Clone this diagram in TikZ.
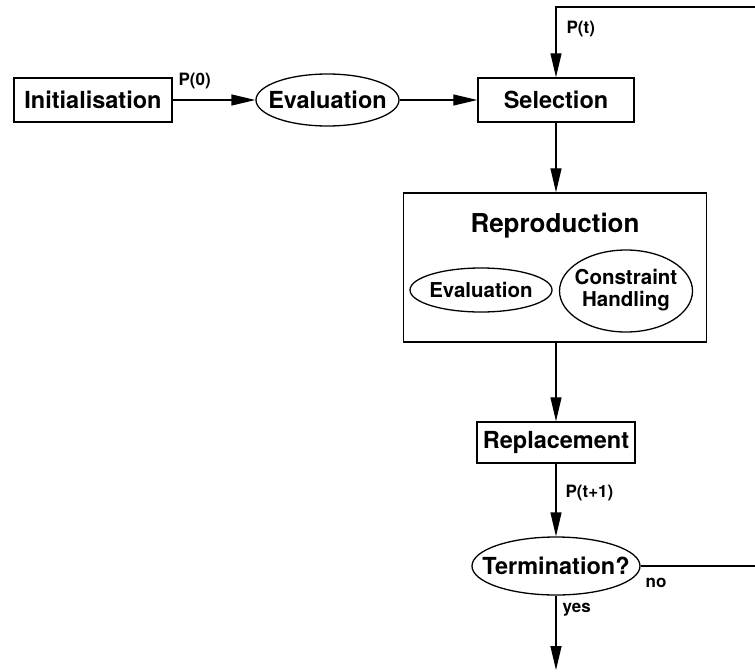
\documentclass[tikz,border=0pt]{standalone}
\usepackage{fontspec}
\setmainfont{TeX Gyre Heros}
\usetikzlibrary{shapes.geometric,arrows.meta}
\begin{document}
\begin{tikzpicture}[x=1pt,y=-1pt,
  line width=1.3pt,
  every node/.style={font=\bfseries},
  bigtxt/.style={font=\fontsize{23.5}{26}\selectfont\bfseries},
  midtxt/.style={font=\fontsize{20.5}{23}\selectfont\bfseries},
  lbl/.style={font=\fontsize{17}{19}\selectfont\bfseries,inner sep=0pt,anchor=west},
  stepbox/.style={draw,rectangle,inner sep=0pt,line width=1.5pt},
  oval/.style={draw,ellipse,inner sep=0pt,line width=1.3pt},
  flow/.style={-{Triangle[length=24pt,width=11pt]}},
]
\useasboundingbox (0,0) rectangle (755,672);

% main stages (oval text is zero-width so the ellipse keeps its given size)
\node[stepbox,bigtxt,minimum width=158pt,minimum height=44pt] (init) at (93,100) {Initialisation};
\node[oval,bigtxt,minimum width=143pt,minimum height=52pt] (eval) at (327.5,100) {\makebox[0pt]{Evaluation}};
\node[stepbox,bigtxt,minimum width=156pt,minimum height=44pt] (sel) at (556,100) {Selection};

% reproduction block with its two sub-steps
\node[stepbox,minimum width=303pt,minimum height=149pt] (repro) at (555,267.5) {};
\node[font=\fontsize{26}{29}\selectfont\bfseries,anchor=base] (reprotitle) at (555,232) {Reproduction};
\node[oval,midtxt,minimum width=142pt,minimum height=44pt] (inner) at (481,290) {\makebox[0pt]{Evaluation}};
\node[oval,midtxt,minimum width=133pt,minimum height=82pt] (cons) at (626,291)
  {\makebox[0pt]{\begin{tabular}{@{}c@{}}Constraint\\[-1pt]Handling\end{tabular}}};

\node[stepbox,bigtxt,minimum width=158pt,minimum height=41pt] (repl) at (556,442.5) {Replacement};
\node[oval,bigtxt,minimum width=168pt,minimum height=58pt] (term) at (556,566) {\makebox[0pt]{Termination?}};

% loop ends at the right border
\coordinate (noend) at (755,566);
\coordinate (topright) at (755,7);
\coordinate (topleft) at (556,7);
\coordinate (exit) at (556,670);

% connectors
\draw[flow] (init.east) -- (eval.west);
\draw[flow] (eval.east) -- (sel.west);
\draw[flow] (topright) -- (topleft) -- (sel.north);
\draw[flow] (sel.south) -- (sel.south |- repro.north);
\draw[flow] (repro.south -| repl.north) -- (repl.north);
\draw[flow] (repl.south) -- (term.north);
\draw (term.east) -- (noend);
\draw[flow] (term.south) -- (exit);

% connector labels
\node[lbl] (p0) at (178,81) {P(0)};
\node[lbl] (pt) at (566,29) {P(t)};
\node[lbl] (pt1) at (565,493) {P(t+1)};
\node[lbl] (no) at (645,583) {no};
\node[lbl] (yes) at (562,610) {yes};
\end{tikzpicture}
\end{document}
